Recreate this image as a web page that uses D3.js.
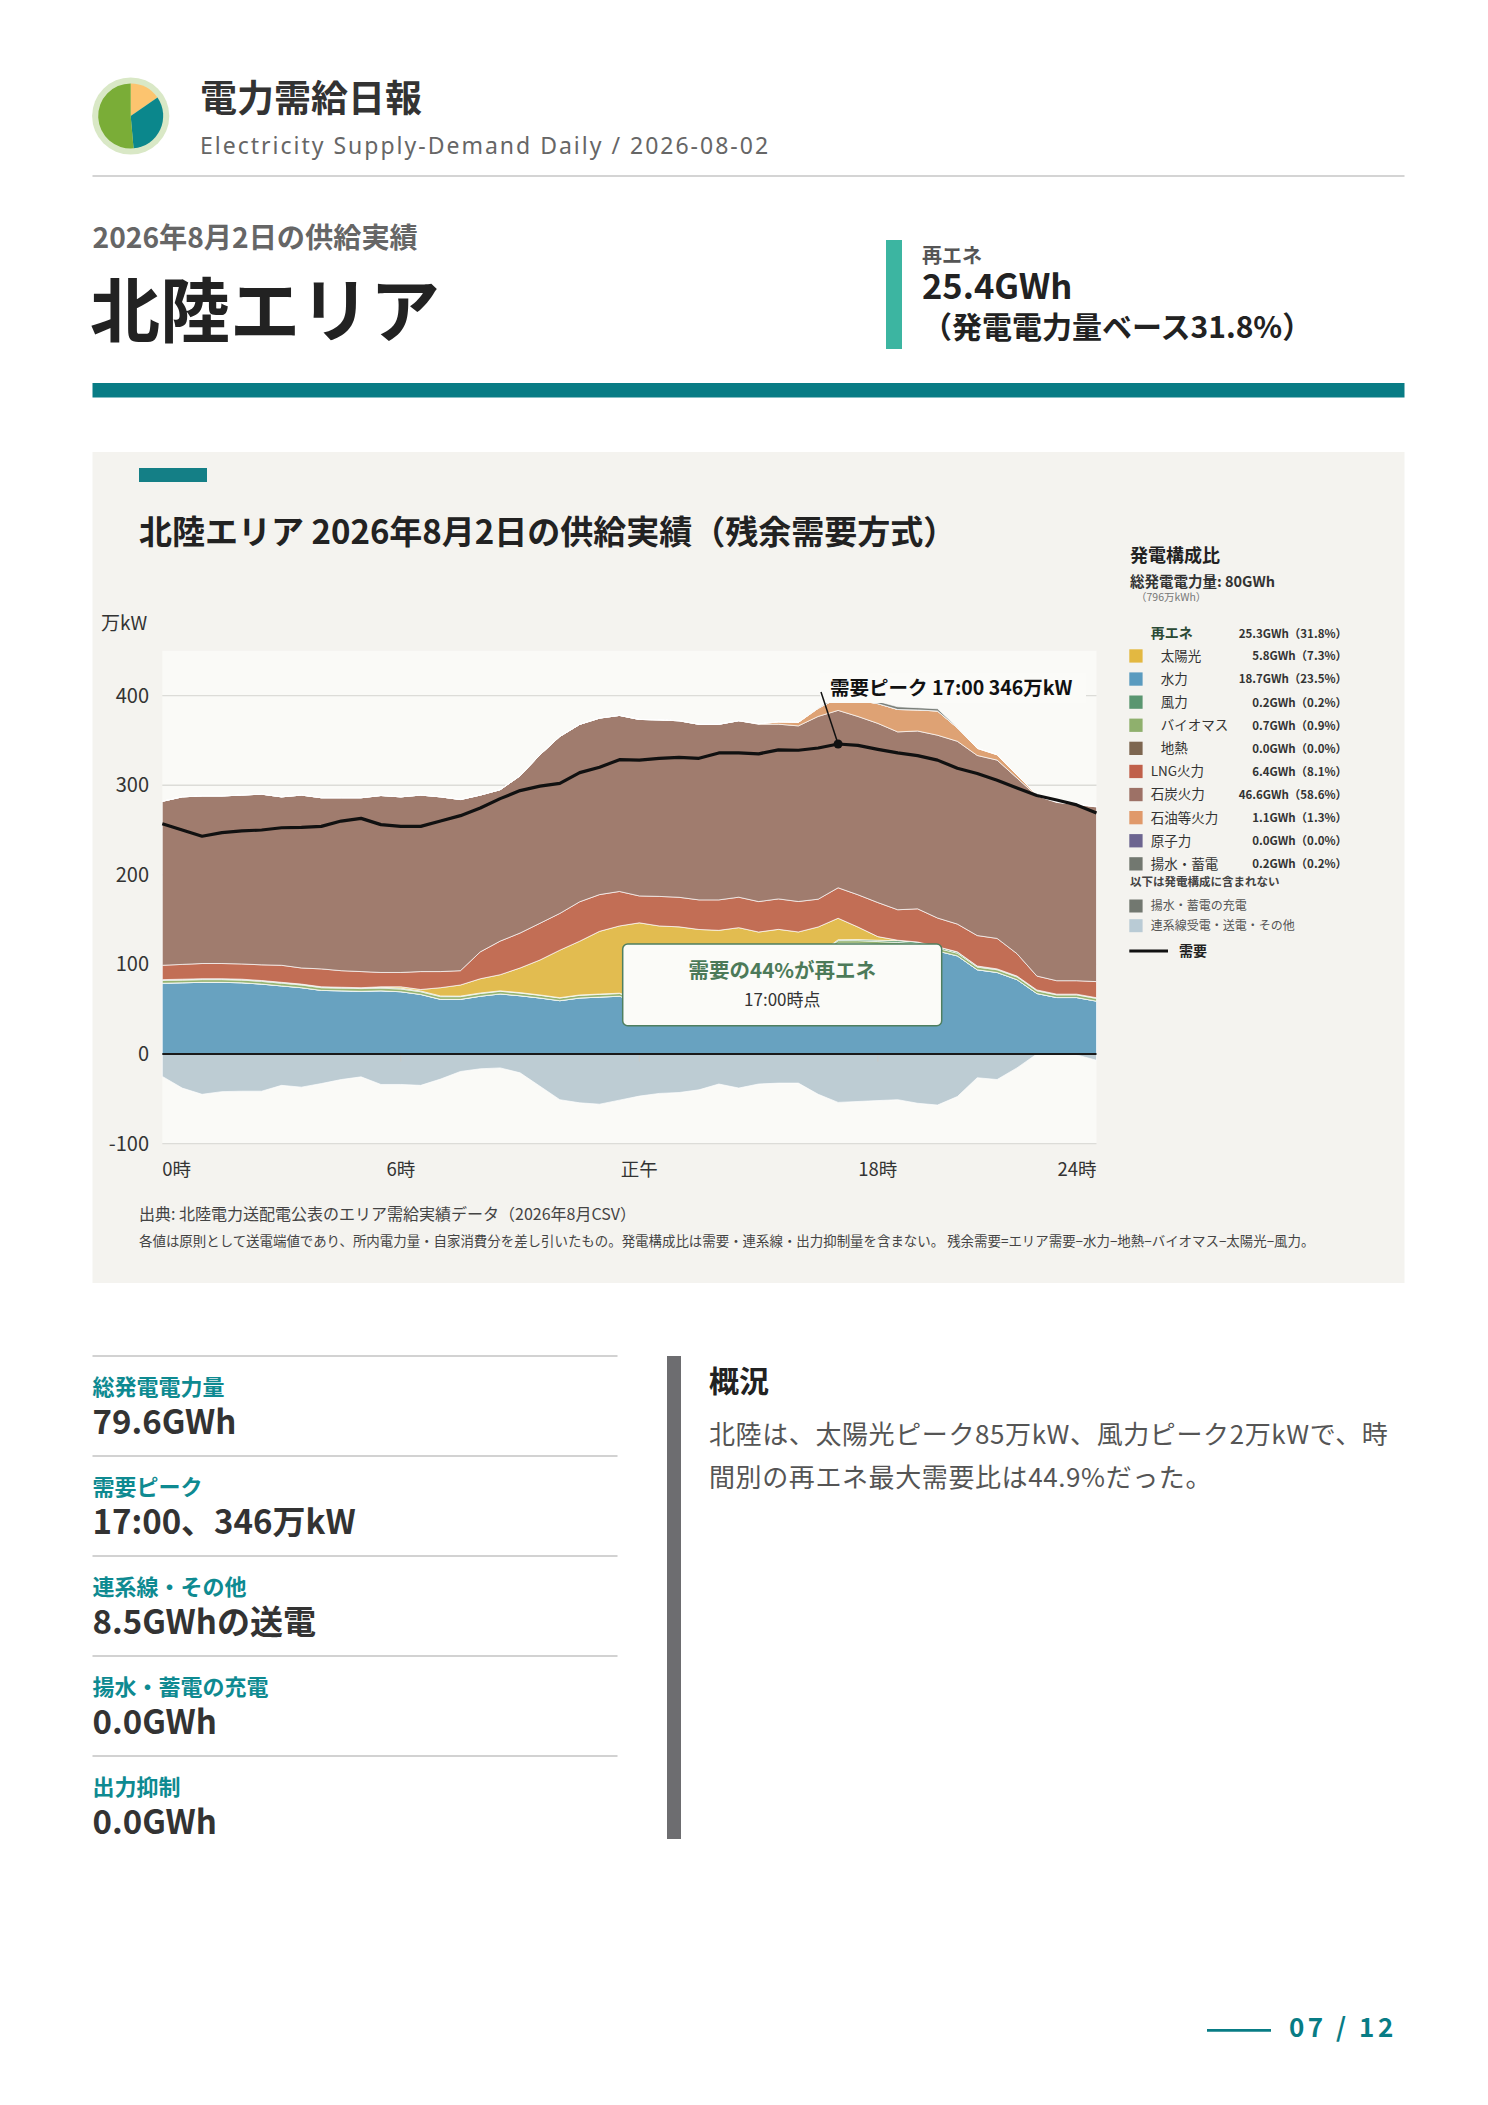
<!DOCTYPE html>
<html><head><meta charset="utf-8">
<script src="https://cdn.jsdelivr.net/npm/d3@7/dist/d3.min.js"></script>
<style>
html,body{margin:0;padding:0;background:#fff;}
svg{display:block;}
text{font-family:"Noto Sans CJK JP","Noto Sans",sans-serif;}
</style></head><body>
<svg id="page" width="1488" height="2105"></svg>
<script>
// ---------------- DATA (万kW, 30-minute values) ----------------
const times = ["0:00","0:30","1:00","1:30","2:00","2:30","3:00","3:30","4:00","4:30","5:00","5:30",
"6:00","6:30","7:00","7:30","8:00","8:30","9:00","9:30","10:00","10:30","11:00","11:30",
"12:00","12:30","13:00","13:30","14:00","14:30","15:00","15:30","16:00","16:30","17:00","17:30",
"18:00","18:30","19:00","19:30","20:00","20:30","21:00","21:30","22:00","22:30","23:00","23:30"];

const hydro = [79,79.5,80,80,79.5,78,76,74,71,70.5,70,70.5,69.5,66.5,61,61,64.5,67,65,62.5,59.5,62.5,63.5,64.5,
58,58,61,64,69,78,81,91,95,107,123.5,123.5,122.5,121.5,120,115,109.5,94,91,83,67.5,63,63,59];
const geothermal = [0,0,0,0,0,0,0,0,0,0,0,0,0,0,0,0,0,0,0,0,0,0,0,0,0,0,0,0,0,0,0,0,0,0,0,0,0,0,0,0,0,0,0,0,0,0,0,0];
const biomass = [3,3,3,3,3,3,3,3,3,3,3,3,3,3,3,3,3,3,3,3,3,3,3,3,3,3,3,3,3,3,3,3,3,3,3,3,3,3,3,3,3,3,3,3,3,3,3,3];
const wind = [1,1,1,1,1,1,1,1,1,1,1,1,1,0.8,0.8,0.6,0.6,0.5,0.5,0.4,0.4,0.4,0.4,0.4,
0.4,0.4,0.4,0.5,0.5,0.5,0.6,0.6,0.7,0.8,1,1.2,1.5,2,2,1.8,1.5,1.2,1,1,1,0.8,0.8,0.8];
const solar = [0,0,0,0,0,0,0,0,0,0,0,0.5,1.5,1.7,9.2,12.4,15.9,18,27.5,39,53,60,70,75,
85,81.5,77.5,71.5,65.5,59.5,51.5,44.5,37.5,31,24,14,4,0.5,0,0,0,0,0,0,0,0,0,0];
const lng = [16,16.5,17,17,17,17.5,19,18,20,18.5,18,16,16,20,18,16,30,37.5,39,41,41,44,41,38.5,
30,33,33,33,34,34,34,34,34,31,34,36,38,34,37,32,31,34,34,25,15.5,15,15,18];
const coal = [183,187,187,187,188.5,190.5,188,193,191,193,194,197.5,196,197,195,191,175,169,175.5,188,197.5,198,197,196.5,
197,197,197,196,196,197,198,195,196,204,198,199,200,198.5,198.5,204,204,201,199,196,201,199,196.5,195];
const oil = [0,0,0,0,0,0,0,0,0,0,0,0,0,0,0,0,0,0,0,0,0,0,0,0,
0,0,0,0,0,0,0.5,2.5,4,9,14,18,22,25,23.5,27,15,8,6,3.5,1,0.5,0.5,0.3];
const nuclear = [0,0,0,0,0,0,0,0,0,0,0,0,0,0,0,0,0,0,0,0,0,0,0,0,0,0,0,0,0,0,0,0,0,0,0,0,0,0,0,0,0,0,0,0,0,0,0,0];
const pumped = [0,0,0,0,0,0,0,0,0,0,0,0,0,0,0,0,0,0,0,0,0,0,0,0,
0,0,0,0,0,0,0,0,0,0.5,2,2.5,2.5,3,2.5,2.5,0.5,0,0,0,0,0,0,0];
const pumpCharge = [0,0,0,0,0,0,0,0,0,0,0,0,0,0,0,0,0,0,0,0,0,0,0,0,0,0,0,0,0,0,0,0,0,0,0,0,0,0,0,0,0,0,0,0,0,0,0,0];
const interconnect = [-25,-38,-45,-42,-41.5,-41.5,-35,-37,-33,-28.5,-25.5,-34,-34,-35,-28,-19.5,-16.5,-15.5,-21,-36,-51,-54.5,-56,-51.5,
-47,-44,-43,-40,-33.5,-38,-33.5,-32.5,-32.5,-45,-54,-53,-52,-51,-55,-57,-47.5,-26.5,-28.5,-15.5,0,0,-1,-7];
const demand = [257,250,243,247,249,250,252.5,253,254,260,263,256,254,254,260,266,274.5,285,294,299,302,314,320,328.5,
328,330,331,330,336,336,335,339.5,339,341.5,346,344.5,340,336,333,328,319,313,305.5,297,288.5,283.5,278,269];

const yTicks = [-100,0,100,200,300,400];
const xTickHours = [0,6,12,18,24];
const xTickLabels = ["0時","6時","正午","18時","24時"];

const legendKeys = ["solar","hydro","wind","biomass","geothermal","lng","coal","oil","nuclear","pumped"];
const legendLabels = ["太陽光","水力","風力","バイオマス","地熱","LNG火力","石炭火力","石油等火力","原子力","揚水・蓄電"];
const legendValues = ["5.8GWh（7.3%）","18.7GWh（23.5%）","0.2GWh（0.2%）","0.7GWh（0.9%）","0.0GWh（0.0%）",
"6.4GWh（8.1%）","46.6GWh（58.6%）","1.1GWh（1.3%）","0.0GWh（0.0%）","0.2GWh（0.2%）"];
const legendRenewable = ["太陽光","水力","風力","バイオマス","地熱"];
const renewableTotal = "25.3GWh（31.8%）";
const extraKeys = ["pumpCharge","interconnect"];
const extraLabels = ["揚水・蓄電の充電","連系線受電・送電・その他"];

const statLabels = ["総発電電力量","需要ピーク","連系線・その他","揚水・蓄電の充電","出力抑制"];
const statValues = ["79.6GWh","17:00、346万kW","8.5GWhの送電","0.0GWh","0.0GWh"];
const summaryLines = ["北陸は、太陽光ピーク85万kW、風力ピーク2万kWで、時","間別の再エネ最大需要比は44.9%だった。"];
const logoShares = [15.4, 33.2, 51.4];

// ---------------- STYLE ----------------
const areaColor = {solar:"#e2bc50",hydro:"#68a2c0",wind:"#5e9a6e",biomass:"#96b472",geothermal:"#7f6652",
  lng:"#c26e55",coal:"#a07c6e",oil:"#dea274",nuclear:"#6e6790",pumped:"#7b807a",pumpCharge:"#737870",interconnect:"#bdccd3"};
const swatchColor = {solar:"#e3b841",hydro:"#5a9bbf",wind:"#5a9670",biomass:"#8fb06d",geothermal:"#7d6650",
  lng:"#c0604a",coal:"#9d7166",oil:"#e0996a",nuclear:"#6c6590",pumped:"#727870",pumpCharge:"#727870",interconnect:"#b9cbd5"};
const logoColors = ["#fcc46f","#0b878c","#7aad37"];
const TEAL = "#087c85";

const svg = d3.select("#page");
function T(parent, x, y, s, size, opts = {}) {
  const t = parent.append("text").attr("x", x).attr("y", y).attr("font-size", size)
    .attr("fill", opts.fill || "#333").attr("font-weight", opts.weight || 400)
    .attr("text-anchor", opts.anchor || "start").text(s);
  if (opts.ls) t.attr("letter-spacing", opts.ls);
  if (opts.family) t.style("font-family", opts.family);
  return t;
}

// ---------------- HEADER ----------------
const logo = svg.append("g").attr("transform", "translate(130.7,116)");
logo.append("circle").attr("r", 38.6).attr("fill", "#d9e8c6");
const pie = d3.pie().sort(null).value(d => d);
const arcG = d3.arc().innerRadius(0).outerRadius(32.5);
logo.selectAll("path").data(pie(logoShares)).join("path").attr("d", arcG).attr("fill", (d, i) => logoColors[i]);

T(svg, 200, 112, "電力需給日報", 37, {weight: 700, fill: "#333"});
T(svg, 200, 154, "Electricity Supply-Demand Daily / 2026-08-02", 23, {fill: "#666", ls: 2, family: '"Noto Sans",sans-serif'});
svg.append("rect").attr("x", 92.5).attr("y", 175).attr("width", 1312).attr("height", 2).attr("fill", "#d4d4d4");

T(svg, 92.5, 248, "2026年8月2日の供給実績", 28.2, {weight: 700, fill: "#666"});
T(svg, 90, 337, "北陸エリア", 70, {weight: 700, fill: "#222"});
svg.append("rect").attr("x", 886).attr("y", 240).attr("width", 16).attr("height", 109).attr("fill", "#3cb5a1");
T(svg, 922, 263, "再エネ", 20, {weight: 700, fill: "#555"});
T(svg, 922, 299, "25.4GWh", 34.5, {weight: 700, fill: "#222"});
T(svg, 922, 338, "（発電電力量ベース31.8%）", 30, {weight: 700, fill: "#222"});
svg.append("rect").attr("x", 92.5).attr("y", 383).attr("width", 1312).attr("height", 14.5).attr("fill", TEAL);

// ---------------- CHART PANEL ----------------
svg.append("rect").attr("x", 92.5).attr("y", 452).attr("width", 1312).attr("height", 831).attr("fill", "#f4f3ef");
svg.append("rect").attr("x", 139).attr("y", 468).attr("width", 68).attr("height", 14).attr("fill", "#147f86");
T(svg, 139, 544, "北陸エリア 2026年8月2日の供給実績（残余需要方式）", 33, {weight: 700, fill: "#222"});

const hourOf = s => { const [h, m] = s.split(":").map(Number); return h + m / 60; };
const table = times.map((t, i) => ({
  hour: hourOf(t), hydro: hydro[i], geothermal: geothermal[i], biomass: biomass[i], wind: wind[i], solar: solar[i],
  lng: lng[i], coal: coal[i], oil: oil[i], nuclear: nuclear[i], pumped: pumped[i],
  pumpCharge: pumpCharge[i], interconnect: interconnect[i], demand: demand[i]
}));

const X0 = 162.3, X1 = 1096.5, Y0 = 1143.6, Y1 = 650.8;
const x = d3.scaleLinear().domain([0, 23.5]).range([X0, X1]);
const y = d3.scaleLinear().domain([-100, 450]).range([Y0, Y1]);

const plot = svg.append("g");
plot.append("rect").attr("x", X0).attr("y", Y1).attr("width", X1 - X0).attr("height", Y0 - Y1).attr("fill", "#fafaf7");
plot.selectAll("line.grid").data(yTicks).join("line").attr("class", "grid")
  .attr("x1", X0).attr("x2", X1).attr("y1", d => y(d)).attr("y2", d => y(d))
  .attr("stroke", "#dcdcd8").attr("stroke-width", 1.4);

const posKeys = ["hydro","geothermal","biomass","wind","solar","lng","coal","oil","nuclear","pumped"];
const negKeys = ["pumpCharge","interconnect"];
const posStack = d3.stack().keys(posKeys)(table);
const negStack = d3.stack().keys(negKeys)(table);
const area = d3.area().x(d => x(d.data.hour)).y0(d => y(d[0])).y1(d => y(d[1]));
plot.selectAll("path.layer").data(negStack.concat(posStack)).join("path").attr("class", "layer")
  .attr("d", area).attr("fill", d => areaColor[d.key])
  .attr("stroke", "#ffffff").attr("stroke-width", 0.9).attr("stroke-opacity", 0.75).attr("stroke-linejoin", "round");

// zero line & small ticks
plot.append("line").attr("x1", X0).attr("x2", X1).attr("y1", y(0)).attr("y2", y(0)).attr("stroke", "#1a1a1a").attr("stroke-width", 2);
plot.selectAll("line.xt").data(xTickHours.filter(h => h > 0 && h < 23.5)).join("line").attr("class", "xt")
  .attr("x1", d => x(d)).attr("x2", d => x(d)).attr("y1", y(0) + 1.5).attr("y2", y(0) + 7.5)
  .attr("stroke", "#c8c8c4").attr("stroke-width", 1);

// demand line
const line = d3.line().x(d => x(d.hour)).y(d => y(d.demand));
plot.append("path").datum(table).attr("d", line).attr("fill", "none").attr("stroke", "#111")
  .attr("stroke-width", 3.2).attr("stroke-linejoin", "round");

// peak annotation
const peak = table.reduce((a, b) => b.demand > a.demand ? b : a);
const peakIdx = table.indexOf(peak);
const lab = svg.append("g");
lab.append("rect").attr("x", 820).attr("y", 673).attr("width", 266).attr("height", 30).attr("fill", "#fbfbf8");
lab.append("line").attr("x1", 821).attr("y1", 692).attr("x2", x(peak.hour)).attr("y2", y(peak.demand))
  .attr("stroke", "#111").attr("stroke-width", 1.5);
lab.append("circle").attr("cx", x(peak.hour)).attr("cy", y(peak.demand)).attr("r", 4.5).attr("fill", "#111");
T(lab, 830, 695, `需要ピーク ${times[peakIdx]} ${Math.round(peak.demand)}万kW`, 19.5, {weight: 700, fill: "#111"});

// renewable share box at peak
const ren = peak.hydro + peak.solar + peak.wind + peak.biomass + peak.geothermal;
const share = Math.round(100 * ren / peak.demand);
const box = svg.append("g");
box.append("rect").attr("x", 622.7).attr("y", 944).attr("width", 319).attr("height", 81.7).attr("rx", 5)
  .attr("fill", "#fbfbf8").attr("stroke", "#4f7f5f").attr("stroke-width", 1.5);
T(box, 782.3, 978, `需要の${share}%が再エネ`, 20.5, {weight: 700, fill: "#4c7a59", anchor: "middle"});
T(box, 782.3, 1006, `${times[peakIdx]}時点`, 17, {fill: "#333", anchor: "middle"});

// axes labels
T(svg, 101, 630, "万kW", 19, {fill: "#333"});
svg.selectAll("text.yt").data(yTicks).join("text").attr("class", "yt")
  .attr("x", 149).attr("y", d => y(d) + 7).attr("text-anchor", "end").attr("font-size", 20)
  .attr("fill", "#333").text(d => d);
svg.selectAll("text.xl").data(xTickHours).join("text").attr("class", "xl")
  .attr("x", d => Math.min(x(d), X1)).attr("y", 1176)
  .attr("text-anchor", d => d === 0 ? "start" : (x(d) >= X1 ? "end" : "middle"))
  .attr("font-size", 18.5).attr("fill", "#333").text((d, i) => xTickLabels[i]);

// ---------------- LEGEND ----------------
const lg = svg.append("g");
T(lg, 1130, 562, "発電構成比", 18, {weight: 700, fill: "#222"});
T(lg, 1130, 587, "総発電電力量: 80GWh", 14.5, {weight: 700, fill: "#333"});
T(lg, 1136, 601, "（796万kWh）", 10.5, {fill: "#777"});
T(lg, 1150.7, 638, "再エネ", 14, {weight: 700, fill: "#2b4a35"});
const VX = 1347;
T(lg, VX, 637.5, renewableTotal, 11.5, {weight: 700, fill: "#333", anchor: "end"});
const rowY = i => 656 + i * 23.1;
legendKeys.forEach((k, i) => {
  const cy = rowY(i);
  lg.append("rect").attr("x", 1129.3).attr("y", cy - 6.7).attr("width", 13.3).attr("height", 13.3).attr("fill", swatchColor[k]);
  const indent = legendRenewable.includes(legendLabels[i]);
  T(lg, indent ? 1160.7 : 1150.7, cy + 4.8, legendLabels[i], 13.5, {fill: "#333"});
  T(lg, VX, cy + 4.3, legendValues[i], 11.5, {weight: 700, fill: "#333", anchor: "end"});
});
T(lg, 1130, 886, "以下は発電構成に含まれない", 11.5, {weight: 700, fill: "#444"});
extraKeys.forEach((k, i) => {
  const cy = 906 + i * 19.7;
  lg.append("rect").attr("x", 1129.3).attr("y", cy - 6.5).attr("width", 13.3).attr("height", 13).attr("fill", swatchColor[k]);
  T(lg, 1150.7, cy + 4.2, extraLabels[i], 12, {fill: "#555"});
});
lg.append("line").attr("x1", 1129.3).attr("x2", 1168).attr("y1", 951).attr("y2", 951).attr("stroke", "#111").attr("stroke-width", 3);
T(lg, 1179, 956, "需要", 14, {weight: 700, fill: "#222"});

// footnotes
T(svg, 139, 1220, "出典: 北陸電力送配電公表のエリア需給実績データ（2026年8月CSV）", 16, {fill: "#444"});
T(svg, 139, 1246, "各値は原則として送電端値であり、所内電力量・自家消費分を差し引いたもの。発電構成比は需要・連系線・出力抑制量を含まない。 残余需要=エリア需要−水力−地熱−バイオマス−太陽光−風力。", 13.45, {fill: "#444"});

// ---------------- BOTTOM STATS ----------------
const st = svg.append("g");
statLabels.forEach((l, i) => {
  const top = 1356 + i * 100;
  st.append("rect").attr("x", 92.5).attr("y", top - 1).attr("width", 525).attr("height", 2).attr("fill", "#d2d2d2");
  T(st, 92.5, top + 39, l, 22, {weight: 700, fill: "#0e8a91"});
  T(st, 92.5, top + 78, statValues[i], 33, {weight: 700, fill: "#333"});
});
svg.append("rect").attr("x", 667).attr("y", 1356).attr("width", 14).attr("height", 483).attr("fill", "#6d6d70");
T(svg, 709, 1392, "概況", 30, {weight: 700, fill: "#222"});
summaryLines.forEach((s, i) => T(svg, 709, 1444 + i * 43, s, 26, {fill: "#555", ls: 0.6}));

// footer
svg.append("line").attr("x1", 1207).attr("x2", 1271).attr("y1", 2030.3).attr("y2", 2030.3).attr("stroke", TEAL).attr("stroke-width", 2.7);
T(svg, 1289, 2036.7, "07 / 12", 26, {weight: 700, fill: TEAL, ls: 3.5});
</script>
</body></html>
